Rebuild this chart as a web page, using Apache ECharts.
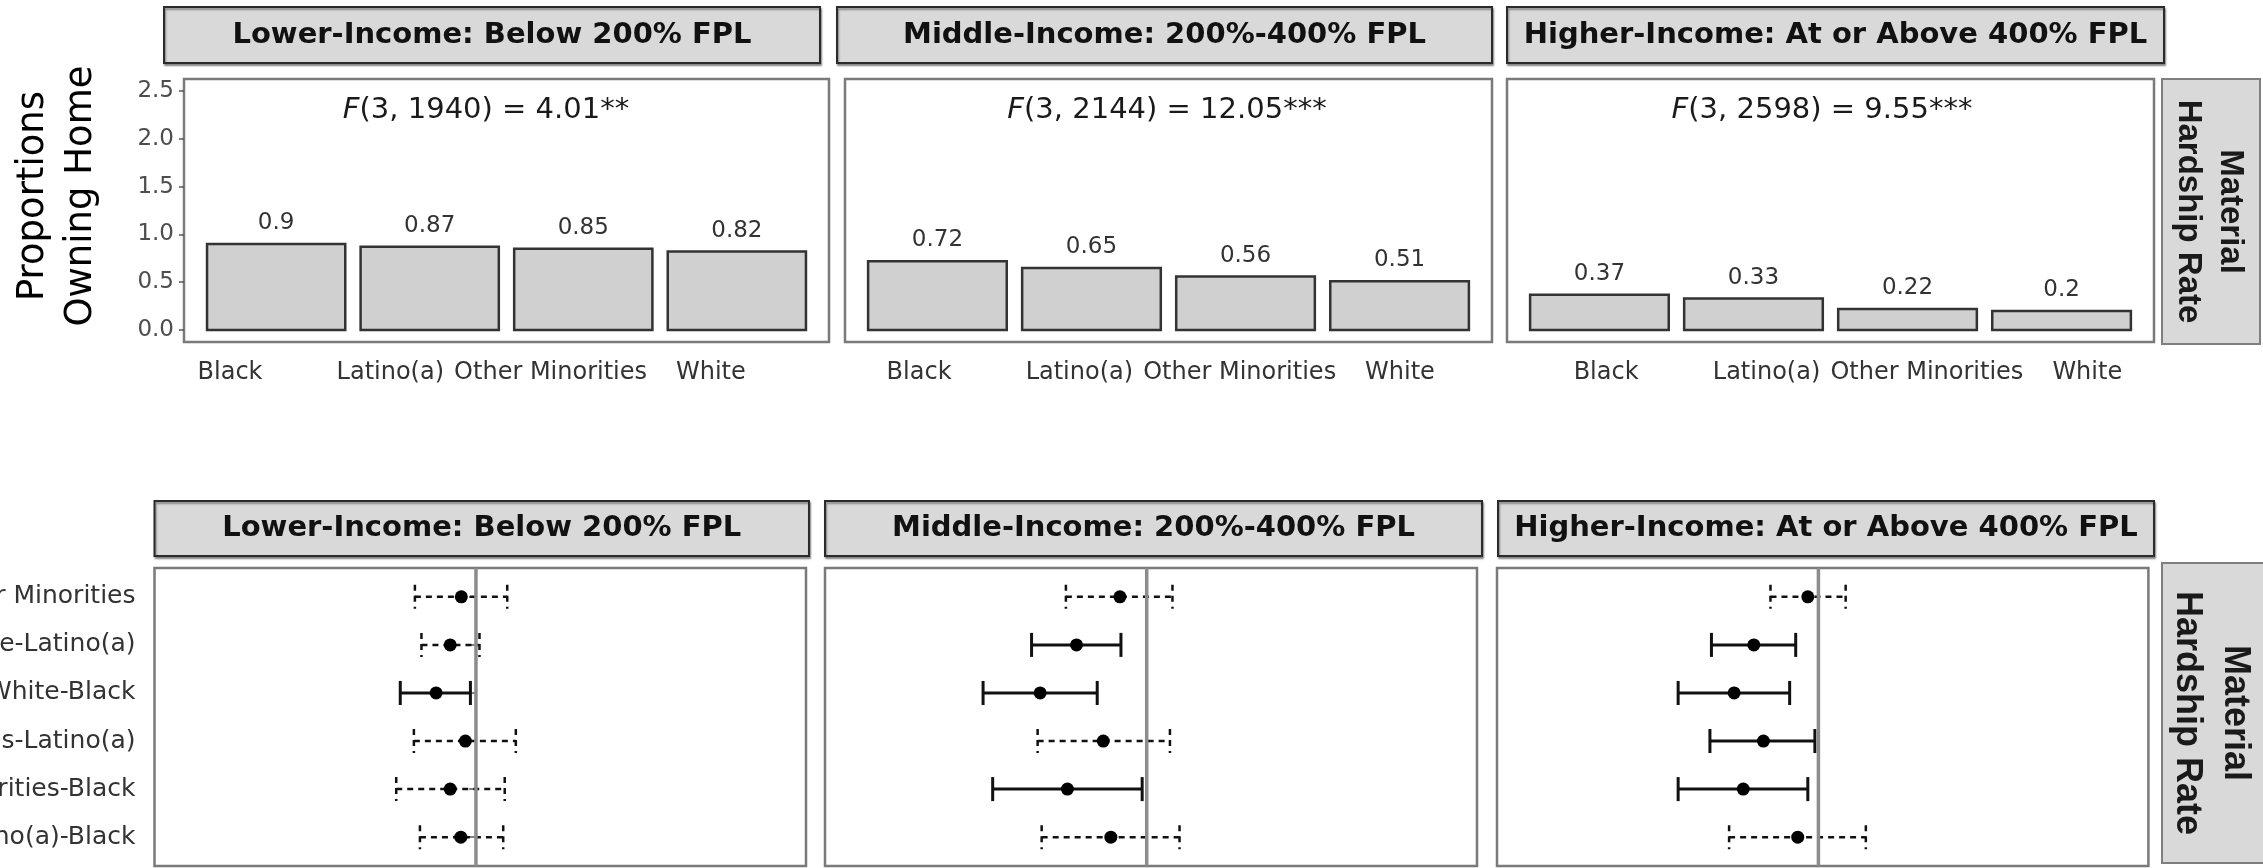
<!DOCTYPE html>
<html>
<head>
<meta charset="utf-8">
<script src="https://cdn.jsdelivr.net/npm/echarts@6/dist/echarts.min.js"></script>
<style>
  html, body { margin: 0; padding: 0; background: #ffffff; }
  #chart { width: 2263px; height: 868px; }
</style>
</head>
<body>
<div id="chart"></div>
<script>
// ---- data ----
const incomeGroups = ['Lower-Income: Below 200% FPL', 'Middle-Income: 200%-400% FPL', 'Higher-Income: At or Above 400% FPL'];
const rowStrip = 'Material\nHardship Rate';
const yTitle = 'Proportions\nOwning Home';
const races = ['Black', 'Latino(a)', 'Other Minorities', 'White'];

// group rates by income group, in the order of races
const lowerRates = [0.9, 0.87, 0.85, 0.82];
const middleRates = [0.72, 0.65, 0.56, 0.51];
const higherRates = [0.37, 0.33, 0.22, 0.2];

// one-way ANOVA results per income group
const fTests = ['(3, 1940) = 4.01**', '(3, 2144) = 12.05***', '(3, 2598) = 9.55***'];
const yTicks = [0, 0.5, 1, 1.5, 2, 2.5];

// Tukey pairwise comparisons, listed bottom to top
const comparisons = ['Latino(a)-Black', 'Other Minorities-Black', 'Other Minorities-Latino(a)',
                     'White-Black', 'White-Latino(a)', 'White-Other Minorities'];
const lowerDiff = [-0.030, -0.051, -0.021, -0.079, -0.051, -0.029];
const lowerLwr  = [-0.111, -0.158, -0.123, -0.150, -0.108, -0.121];
const lowerUpr  = [ 0.054,  0.057,  0.079, -0.011,  0.007,  0.062];
const middleDiff = [-0.071, -0.157, -0.086, -0.211, -0.139, -0.053];
const middleLwr  = [-0.208, -0.305, -0.216, -0.324, -0.228, -0.160];
const middleUpr  = [ 0.065, -0.009,  0.046, -0.098, -0.051,  0.051];
const higherDiff = [-0.041, -0.149, -0.109, -0.167, -0.128, -0.021];
const higherLwr  = [-0.177, -0.278, -0.215, -0.278, -0.212, -0.095];
const higherUpr  = [ 0.094, -0.021, -0.007, -0.057, -0.045,  0.054];

// ---- layout ----
const FONT = '"DejaVu Sans", sans-serif';
const rates = [lowerRates, middleRates, higherRates];
const diffs = [lowerDiff, middleDiff, higherDiff];
const lwrs = [lowerLwr, middleLwr, higherLwr];
const uprs = [lowerUpr, middleUpr, higherUpr];

const topPanels = [[184, 829], [845, 1492], [1507, 2154]];
const topY = [79, 342];
const topStrips = [[164, 820], [837, 1492], [1507, 2164]];
const labelRange = [[0.713, 4.737], [0.538, 4.574], [0.382, 4.416]];
const fTextX = [486, 1167, 1822];

const botPanels = [[154.5, 806], [825, 1477], [1497, 2148.4]];
const botY = [568, 866];
const botStrips = [[154.5, 809], [825, 1482], [1498, 2154]];

function panelGrid(l, t, w, h) {
  return {
    left: l, top: t, width: w, height: h,
    show: true, backgroundColor: '#ffffff',
    borderColor: '#7a7a7a', borderWidth: 2.5,
    containLabel: false, outerBoundsMode: 'none'
  };
}

// bars drawn as rectangles sized by the x scale (0.9 of a category step)
function renderBar(params, api) {
  const x = api.value(0), v = api.value(1);
  const top = api.coord([x, v]);
  const base = api.coord([x, 0]);
  const w = api.size([0.9, 0])[0];
  return {
    type: 'rect',
    shape: { x: top[0] - w / 2, y: top[1], width: w, height: base[1] - top[1] },
    style: { fill: '#d0d0d0', stroke: '#333333', lineWidth: 2.5 },
    textContent: { style: { text: String(v), font: '23px ' + FONT, fill: '#333333' } },
    textConfig: { position: 'top', distance: 8 }
  };
}

// horizontal confidence interval with caps and a point estimate
function renderErr(params, api) {
  const est = api.value(0), row = api.value(1), lo = api.value(2), hi = api.value(3);
  const pL = api.coord([lo, row]);
  const pH = api.coord([hi, row]);
  const pE = api.coord([est, row]);
  const half = api.size([0, 0.25])[1];
  const sig = hi < 0 || lo > 0;
  const ls = () => ({ stroke: '#111111', lineWidth: sig ? 3 : 2.5, lineDash: sig ? null : [6, 5] });
  return {
    type: 'group',
    children: [
      { type: 'line', shape: { x1: pL[0], y1: pL[1], x2: pH[0], y2: pH[1] }, style: ls() },
      { type: 'line', shape: { x1: pL[0], y1: pL[1] - half, x2: pL[0], y2: pL[1] + half }, style: ls() },
      { type: 'line', shape: { x1: pH[0], y1: pH[1] - half, x2: pH[0], y2: pH[1] + half }, style: ls() },
      { type: 'circle', shape: { cx: pE[0], cy: pE[1], r: 6.5 }, style: { fill: '#000000' } }
    ]
  };
}

const grid = [], xAxis = [], yAxis = [], series = [], elements = [];

// top row: group rates
topPanels.forEach(([l, r], i) => {
  grid.push(panelGrid(l, topY[0], r - l, topY[1] - topY[0]));
  xAxis.push({ gridIndex: i, type: 'value', min: 0.4, max: 4.6, position: 'bottom', show: false });
  xAxis.push({
    gridIndex: i, type: 'value', min: labelRange[i][0], max: labelRange[i][1], position: 'bottom',
    axisLine: { show: false }, axisTick: { show: false }, splitLine: { show: false },
    axisLabel: {
      customValues: [1, 2, 3, 4], formatter: v => races[Math.round(v) - 1],
      fontFamily: FONT, fontSize: 24, color: '#333333', margin: 19, hideOverlap: false
    }
  });
  yAxis.push({
    gridIndex: i, type: 'value', min: -0.125, max: 2.625, show: i === 0,
    axisLine: { show: false }, splitLine: { show: false },
    axisTick: { show: true, customValues: yTicks, length: 5, lineStyle: { color: '#555555', width: 1.5 } },
    axisLabel: {
      customValues: yTicks, formatter: v => v.toFixed(1),
      fontFamily: FONT, fontSize: 23, color: '#4d4d4d', margin: 10, hideOverlap: false
    }
  });
  series.push({
    type: 'custom', xAxisIndex: 2 * i, yAxisIndex: i, renderItem: renderBar,
    data: rates[i].map((v, k) => [k + 1, v]), encode: { x: 0, y: 1 }, silent: true
  });

  elements.push({
    type: 'rect', shape: { x: topStrips[i][0], y: 7, width: topStrips[i][1] - topStrips[i][0], height: 56 },
    style: { fill: '#d9d9d9', stroke: '#2b2b2b', lineWidth: 2, shadowBlur: 2, shadowOffsetX: 1, shadowOffsetY: 2, shadowColor: 'rgba(0,0,0,0.4)' }
  });
  elements.push({
    type: 'text', x: (topStrips[i][0] + topStrips[i][1]) / 2, y: 35,
    style: { text: incomeGroups[i], font: 'bold 29px ' + FONT, fill: '#111111', align: 'center', verticalAlign: 'middle' }
  });
  elements.push({
    type: 'text', x: fTextX[i], y: 110,
    style: {
      text: '{i|F}' + fTests[i], font: '29px ' + FONT, fill: '#1a1a1a', align: 'center', verticalAlign: 'middle',
      rich: { i: { font: 'italic 29px ' + FONT, fill: '#1a1a1a' } }
    }
  });
});

// bottom row: pairwise differences
botPanels.forEach(([l, r], i) => {
  const g = 3 + i;
  grid.push(panelGrid(l, botY[0], r - l, botY[1] - botY[0]));
  xAxis.push({ gridIndex: g, type: 'value', min: -0.637, max: 0.654, position: 'bottom', show: false });
  yAxis.push({
    gridIndex: g, type: 'value', min: 0.4, max: 6.6, show: i === 0,
    axisLine: { show: false }, splitLine: { show: false },
    axisTick: { show: true, customValues: [1, 2, 3, 4, 5, 6], length: 7, lineStyle: { color: '#555555', width: 1.5 } },
    axisLabel: {
      customValues: [1, 2, 3, 4, 5, 6], formatter: v => comparisons[Math.round(v) - 1],
      fontFamily: FONT, fontSize: 25, color: '#333333', margin: 19, hideOverlap: false
    }
  });
  series.push({
    type: 'custom', xAxisIndex: 6 + i, yAxisIndex: 3 + i, renderItem: renderErr, silent: true,
    data: comparisons.map((c, k) => [diffs[i][k], k + 1, lwrs[i][k], uprs[i][k]]),
    encode: { x: [0, 2, 3], y: 1 }, z: 2
  });
  series.push({
    type: 'line', xAxisIndex: 6 + i, yAxisIndex: 3 + i, silent: true, z: 3,
    data: [[0, 0.4], [0, 6.6]], symbol: 'none',
    lineStyle: { color: '#8c8c8c', width: 3.5 }
  });

  elements.push({
    type: 'rect', shape: { x: botStrips[i][0], y: 501, width: botStrips[i][1] - botStrips[i][0], height: 55 },
    style: { fill: '#d9d9d9', stroke: '#2b2b2b', lineWidth: 2, shadowBlur: 2, shadowOffsetX: 1, shadowOffsetY: 2, shadowColor: 'rgba(0,0,0,0.4)' }
  });
  elements.push({
    type: 'text', x: (botStrips[i][0] + botStrips[i][1]) / 2, y: 528.5,
    style: { text: incomeGroups[i], font: 'bold 29px ' + FONT, fill: '#111111', align: 'center', verticalAlign: 'middle' }
  });
});

// row strips on the right
elements.push({
  type: 'rect', shape: { x: 2162, y: 79, width: 98, height: 265 },
  style: { fill: '#d9d9d9', stroke: '#7f7f7f', lineWidth: 2 }
});
elements.push({
  type: 'text', x: 2209, y: 211.5, rotation: -Math.PI / 2,
  style: { text: rowStrip, font: 'bold 33px "Liberation Sans", Arial, sans-serif', lineHeight: 42, fill: '#1a1a1a', align: 'center', verticalAlign: 'middle' }
});
elements.push({
  type: 'rect', shape: { x: 2162, y: 563, width: 104, height: 300 },
  style: { fill: '#d9d9d9', stroke: '#7f7f7f', lineWidth: 2 }
});
elements.push({
  type: 'text', x: 2211, y: 713, rotation: -Math.PI / 2,
  style: { text: rowStrip, font: 'bold 36px "Liberation Sans", Arial, sans-serif', lineHeight: 48, fill: '#1a1a1a', align: 'center', verticalAlign: 'middle' }
});

// y axis title of the top row
elements.push({
  type: 'text', x: 57, y: 196, rotation: Math.PI / 2,
  style: { text: yTitle, font: '37px ' + FONT, lineHeight: 48, fill: '#000000', align: 'center', verticalAlign: 'middle' }
});

const chart = echarts.init(document.getElementById('chart'), null, { renderer: 'canvas', width: 2263, height: 868 });
chart.setOption({
  backgroundColor: '#ffffff',
  animation: false,
  grid, xAxis, yAxis, series,
  graphic: { elements }
});
</script>
</body>
</html>
